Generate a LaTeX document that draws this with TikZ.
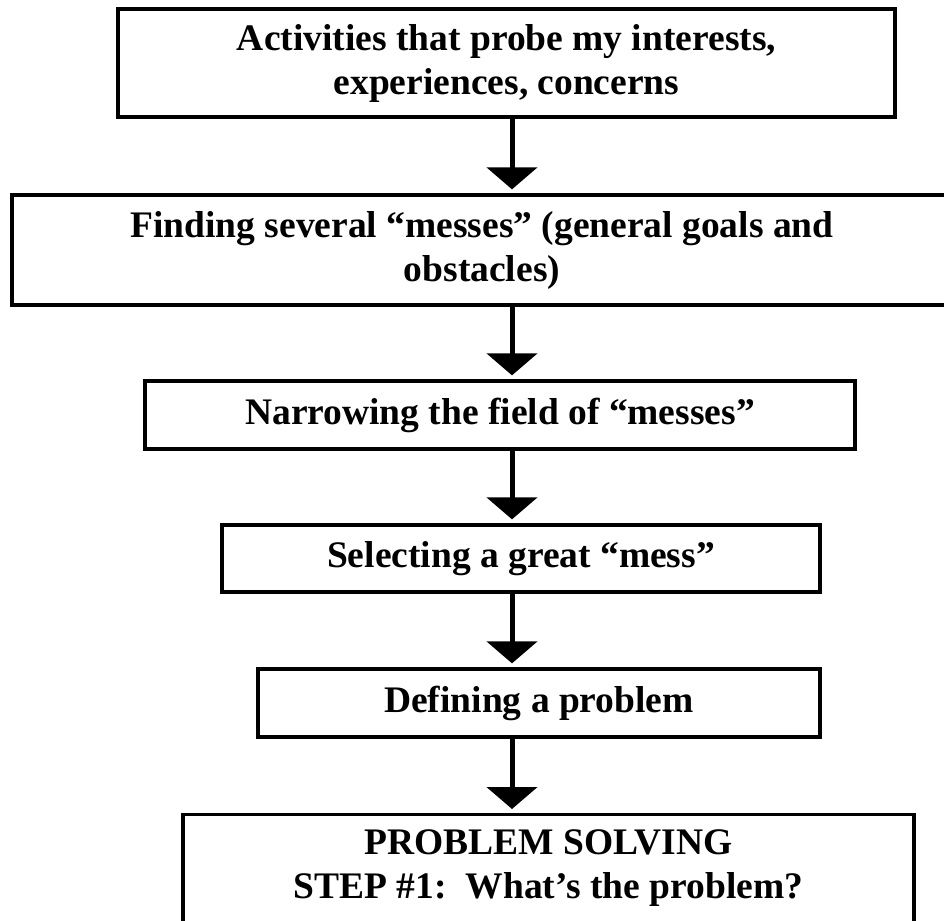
\documentclass[tikz,border=0pt]{standalone}
\usepackage{fontspec}
\setmainfont{Liberation Serif}
\usetikzlibrary{arrows.meta}
\begin{document}
\begin{tikzpicture}[x=1pt,y=-1pt,
  stepbox/.style={draw, line width=3.3pt, inner sep=0pt, align=center,
    font=\bfseries\fontsize{37.5}{44}\selectfont},
  steptext/.style={inner sep=0pt, align=center,
    font=\bfseries\fontsize{37.5}{44}\selectfont},
  flow/.style={line width=5pt, -{Triangle[length=22pt,width=50pt]}, shorten >=4pt}]
\useasboundingbox (0,0) rectangle (944,920);
\clip (0,0) rectangle (944,920);
\coordinate (ax) at (512,0);
\node[stepbox, minimum width=777pt, minimum height=108pt] (b1) at (506.5,63)
  {Activities that probe my interests,\\experiences, concerns};
\node[stepbox, minimum width=940pt, minimum height=110pt] (b2) at (482,250)
  {Finding several “messes” (general goals and\\obstacles)};
\node[stepbox, minimum width=710pt, minimum height=68pt] (b3) at (500,415)
  {Narrowing the field of “messes”};
\node[stepbox, minimum width=598pt, minimum height=67pt] (b4) at (521,558.5)
  {Selecting a great “mess”};
\node[stepbox, minimum width=562pt, minimum height=68pt] (b5) at (539,703)
  {Defining a problem};
\node[draw, line width=3.3pt, inner sep=0pt, minimum width=731pt, minimum height=140pt, anchor=north] (b6) at (548.5,813) {};
\node[steptext] (t6) at (548.5,868) {PROBLEM SOLVING\\STEP \#1:\ \ What’s the problem?};
\draw[flow] (b1.south -| ax) -- (b2.north -| ax);
\draw[flow] (b2.south -| ax) -- (b3.north -| ax);
\draw[flow] (b3.south -| ax) -- (b4.north -| ax);
\draw[flow] (b4.south -| ax) -- (b5.north -| ax);
\draw[flow] (b5.south -| ax) -- (b6.north -| ax);
\end{tikzpicture}
\end{document}
